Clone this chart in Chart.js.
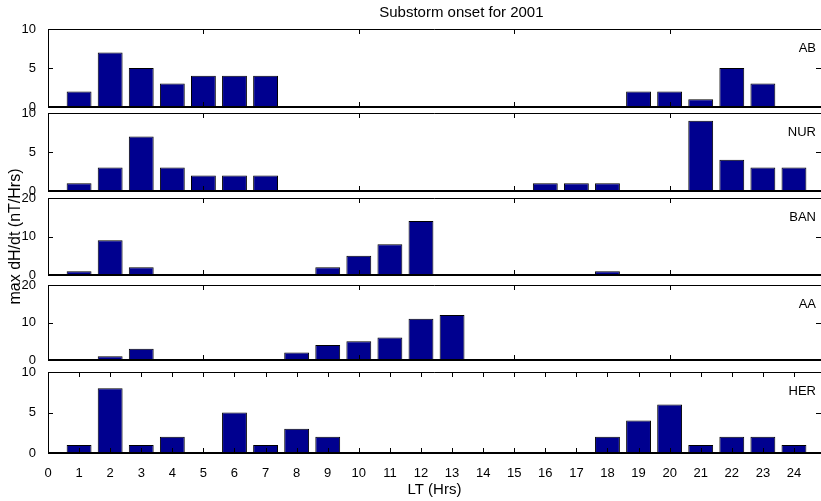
<!DOCTYPE html>
<html>
<head>
<meta charset="utf-8">
<script src="https://cdn.jsdelivr.net/npm/chart.js@4.4.1/dist/chart.umd.min.js"></script>
<style>
    body { margin: 0; background: #fff; }
    #wrap { position: relative; width: 821px; height: 501px; }
    #wrap canvas { position: absolute; left: 0; top: 0; }
</style>
</head>
<body>
<div id="wrap">
    <canvas id="p0" width="821" height="501"></canvas>
    <canvas id="p1" width="821" height="501"></canvas>
    <canvas id="p2" width="821" height="501"></canvas>
    <canvas id="p3" width="821" height="501"></canvas>
    <canvas id="p4" width="821" height="501"></canvas>
</div>
<script>
// local time hours
const hours = [1, 2, 3, 4, 5, 6, 7, 8, 9, 10, 11, 12, 13, 14, 15, 16, 17, 18, 19, 20, 21, 22, 23, 24];

// max dH/dt per station, one value per hour
const AB  = [2, 7, 5, 3, 4, 4, 4, 0, 0, 0, 0, 0, 0, 0, 0, 0, 0, 0, 2, 2, 1, 5, 3, 0];
const NUR = [1, 3, 7, 3, 2, 2, 2, 0, 0, 0, 0, 0, 0, 0, 0, 1, 1, 1, 0, 0, 9, 4, 3, 3];
const BAN = [1, 9, 2, 0, 0, 0, 0, 0, 2, 5, 8, 14, 0, 0, 0, 0, 0, 1, 0, 0, 0, 0, 0, 0];
const AA  = [0, 1, 3, 0, 0, 0, 0, 2, 4, 5, 6, 11, 12, 0, 0, 0, 0, 0, 0, 0, 0, 0, 0, 0];
const HER = [1, 8, 1, 2, 0, 5, 1, 3, 2, 0, 0, 0, 0, 0, 0, 0, 0, 2, 4, 6, 1, 2, 2, 1];

const stations = ['AB', 'NUR', 'BAN', 'AA', 'HER'];
const series = [AB, NUR, BAN, AA, HER];
const yMax = [10, 10, 20, 20, 10];
const yStep = [5, 5, 10, 10, 5];

// panel top / bottom of each plot area
const panelTop = [29, 113, 198, 285, 372];
const panelBottom = [107, 191, 275, 360, 453];

const FONT = "'Liberation Sans', Arial, sans-serif";
const W = 821, H = 501;

const boxPlugin = {
    id: 'box',
    afterDatasetsDraw(chart, args, opts) {
        const {ctx, chartArea: a, scales: {x, y}} = chart;
        ctx.save();
        ctx.strokeStyle = '#000';
        ctx.lineWidth = 1;
        ctx.beginPath();
        x.ticks.forEach((t) => {
            const px = Math.round(x.getPixelForValue(t.value)) + 0.5;
            ctx.moveTo(px, a.top);
            ctx.lineTo(px, a.top + 5);
            ctx.moveTo(px, a.bottom);
            ctx.lineTo(px, a.bottom - 5);
        });
        y.ticks.forEach((t) => {
            const py = Math.round(y.getPixelForValue(t.value)) + 0.5;
            ctx.moveTo(a.left, py);
            ctx.lineTo(a.left + 5, py);
            ctx.moveTo(a.right, py);
            ctx.lineTo(a.right - 5, py);
        });
        ctx.stroke();

        // frame
        ctx.beginPath();
        ctx.moveTo(a.left + 0.5, a.bottom);
        ctx.lineTo(a.left + 0.5, a.top + 0.5);
        ctx.lineTo(a.right, a.top + 0.5);
        ctx.stroke();
        ctx.lineWidth = 2;
        ctx.beginPath();
        ctx.moveTo(a.left, a.bottom);
        ctx.lineTo(a.right, a.bottom);
        ctx.stroke();

        ctx.fillStyle = '#000';
        ctx.font = '13px ' + FONT;
        ctx.textAlign = 'right';
        ctx.textBaseline = 'middle';
        ctx.fillText(opts.label, a.right - 5, a.top + 19);

        if (opts.title) {
            ctx.font = '15px ' + FONT;
            ctx.textAlign = 'center';
            ctx.fillText(opts.title, x.getPixelForValue(13.3), a.top - 16);
        }
        ctx.restore();
    }
};

const makePanel = (i) => {
    const last = i === series.length - 1;
    const ctx = document.getElementById('p' + i);
    new Chart(ctx, {
        type: 'bar',
        data: {
            datasets: [{
                data: hours.map((h, k) => ({x: h, y: series[i][k]})),
                backgroundColor: '#00008f',
                borderColor: '#000',
                borderWidth: 1,
                borderSkipped: 'start',
                barPercentage: 0.8,
                categoryPercentage: 1.0
            }]
        },
        options: {
            responsive: false,
            animation: false,
            events: [],
            layout: {
                padding: {top: panelTop[i], bottom: last ? 0 : H - panelBottom[i], left: 0, right: 0}
            },
            plugins: {
                legend: {display: false},
                tooltip: {enabled: false},
                box: {label: stations[i], title: i === 0 ? 'Substorm onset for 2001' : ''}
            },
            scales: {
                x: {
                    type: 'linear',
                    offset: false,
                    min: 0,
                    max: 24.87,
                    grid: {display: false},
                    border: {display: false},
                    ticks: {
                        display: last,
                        stepSize: last ? 1 : 5,
                        includeBounds: false,
                        autoSkip: false,
                        maxRotation: 0,
                        padding: 5,
                        color: '#000',
                        font: {family: FONT, size: 13}
                    },
                    title: {
                        display: last,
                        text: 'LT (Hrs)',
                        color: '#000',
                        font: {family: FONT, size: 15},
                        padding: {top: 0, bottom: 2}
                    },
                    afterFit: (scale) => { scale.height = last ? H - panelBottom[i] : 0; }
                },
                y: {
                    min: 0,
                    max: yMax[i],
                    grid: {display: false},
                    border: {display: false},
                    ticks: {
                        stepSize: yStep[i],
                        padding: 4,
                        color: '#000',
                        font: {family: FONT, size: 13}
                    },
                    title: {
                        display: i === 2,
                        text: 'max dH/dt (nT/Hrs)',
                        color: '#000',
                        font: {family: FONT, size: 16},
                        padding: {top: 6, bottom: 0}
                    },
                    afterFit: (scale) => { scale.width = 48; }
                }
            }
        },
        plugins: [boxPlugin]
    });
};

series.forEach((s, i) => makePanel(i));
</script>
</body>
</html>
